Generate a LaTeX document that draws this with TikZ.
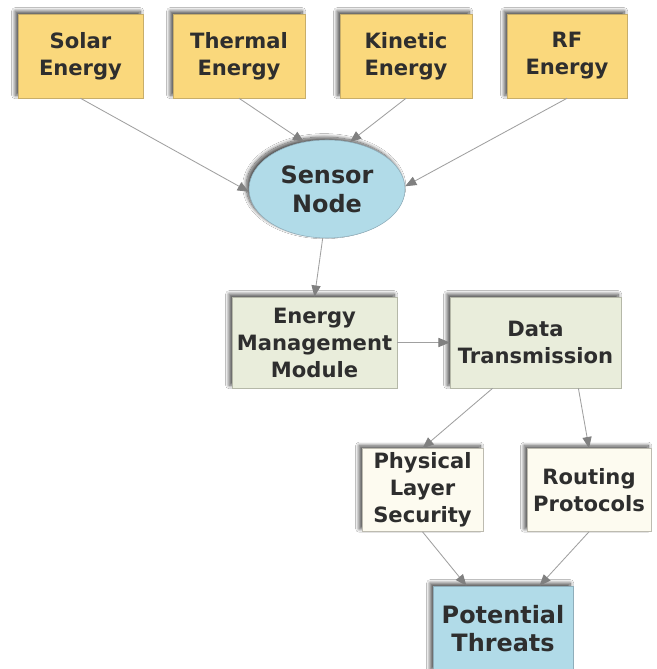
\documentclass[tikz,border=0pt]{standalone}
\usepackage{fontspec}
\setmainfont{DejaVu Sans}
\usepackage{tikz}
\usetikzlibrary{shapes.geometric,shadows.blur,arrows.meta,calc}
\definecolor{srcfill}{HTML}{FAD87C}
\definecolor{srcdraw}{HTML}{C8AE6A}
\definecolor{nodefill}{HTML}{B1DBE8}
\definecolor{nodedraw}{HTML}{8FAEBB}
\definecolor{modfill}{HTML}{E9EDDB}
\definecolor{moddraw}{HTML}{B5B8A8}
\definecolor{layfill}{HTML}{FDFBF0}
\definecolor{laydraw}{HTML}{BDBBB0}
\definecolor{txt}{HTML}{2E2E2E}
\definecolor{link}{HTML}{A0A0A0}
\definecolor{tip}{HTML}{808080}
\tikzstyle{box} = [rectangle, inner sep=0pt, align=center, text=txt, font={\bfseries\fontsize{15}{19.2}\selectfont}, blur shadow={shadow xshift=-2pt, shadow yshift=2pt, shadow blur radius=2.5pt, shadow blur steps=16, shadow opacity=70}]
\tikzstyle{source} = [box, draw=srcdraw, fill=srcfill, minimum height=84*0.025cm]
\tikzstyle{sensor} = [box, ellipse, draw=nodedraw, fill=nodefill, minimum width=156*0.025cm, minimum height=98*0.025cm, font={\bfseries\fontsize{17}{20.5}\selectfont}]
\tikzstyle{module} = [box, draw=moddraw, fill=modfill, minimum height=91*0.025cm]
\tikzstyle{layer} = [box, draw=laydraw, fill=layfill, minimum height=83*0.025cm]
\tikzstyle{threat} = [box, draw=nodedraw, fill=nodefill, minimum height=86*0.025cm, font={\bfseries\fontsize{17}{20}\selectfont}]
\tikzstyle{flow} = [draw=link, line width=0.6pt, -{Triangle[length=8pt,width=6.5pt,color=tip,fill=tip]}]

\begin{document}
\begin{tikzpicture}[x=0.025cm, y=-0.025cm]
        \useasboundingbox (0,0) rectangle (656,669);
        \fill[white] (0,0) rectangle (656,669);
        \node[source, minimum width=125*0.025cm](solar) at (80.5,56){Solar\\Energy};
        \node[source, minimum width=132*0.025cm](thermal) at (239,56){Thermal\\Energy};
        \node[source, minimum width=132*0.025cm](kinetic) at (406,56){Kinetic\\Energy};
        \node[source, minimum width=120*0.025cm](rf) at (567,56){RF\\Energy};
        \node[sensor](sensor) at (327,189){Sensor\\Node};
        \node[module, minimum width=165*0.025cm](emm) at (314.5,342.5){Energy\\Management\\Module};
        \node[module, minimum width=171*0.025cm](dt) at (535.5,342.5){Data\\Transmission};
        \node[layer, minimum width=121*0.025cm](pls) at (422.5,490){Physical\\Layer\\Security};
        \node[layer, minimum width=124*0.025cm](rp) at (589,490){Routing\\Protocols};
        \node[threat, minimum width=140*0.025cm](pt) at (503,629){Potential\\Threats};
        \draw[flow](solar.south)--(sensor.182);
        \draw[flow](thermal.south)--(sensor.116);
        \draw[flow](kinetic.south)--(sensor.64);
        \draw[flow](rf.south)--(sensor.2);
        \draw[flow](sensor.265)--(emm.north);
        \draw[flow](emm.east)--(dt.west);
        \draw[flow]($(dt.south west)!.25!(dt.south east)$)--(pls.north);
        \draw[flow]($(dt.south west)!.75!(dt.south east)$)--(rp.north);
        \draw[flow](pls.south)--($(pt.north west)!.24!(pt.north east)$);
        \draw[flow](rp.south)--($(pt.north west)!.76!(pt.north east)$);
      \end{tikzpicture}
\end{document}
